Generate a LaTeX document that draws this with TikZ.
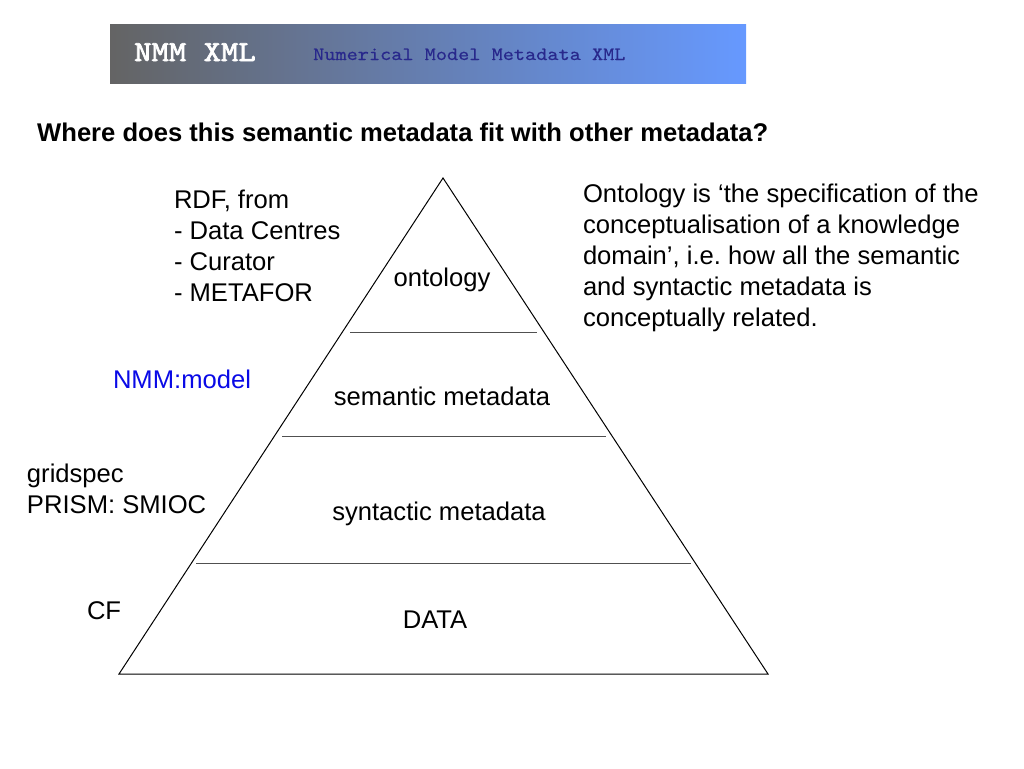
\documentclass[tikz,border=0pt]{standalone}
\usepackage{fontspec}
\setmainfont{Liberation Sans}
\newfontfamily\bannerbold{lmmono10-regular.otf}[FakeStretch=1.14,FakeBold=2.5]
\newfontfamily\bannerfont{lmmono10-regular.otf}[FakeStretch=1.13,FakeBold=0.4]
\definecolor{bandgray}{RGB}{100,100,100}
\definecolor{bandblue}{RGB}{102,153,255}
\definecolor{bandtext}{RGB}{40,40,140}
\definecolor{linegray}{RGB}{80,80,80}
\definecolor{modelblue}{RGB}{10,10,230}
\frenchspacing
\begin{document}
\begin{tikzpicture}[x=1pt,y=-1pt,
  body/.style={inner sep=0pt,outer sep=0pt,font=\fontsize{25.6}{31}\selectfont,align=left},
  label/.style={body,anchor=base west},
  layer/.style={body,anchor=base,align=center},
  sep/.style={draw=linegray,line width=1pt}]
\useasboundingbox (0,0) rectangle (1024,768);
% banner
\shade[left color=bandgray,right color=bandblue,shading angle=90] (110,25) rectangle (746,83);
\node[anchor=base west,inner sep=0pt,text=white,font=\bannerbold\fontsize{29}{30}\selectfont] (nmm) at (134,61) {NMM XML};
\node[anchor=base west,inner sep=0pt,text=bandtext,font=\bannerfont\fontsize{18.8}{20}\selectfont] (nmmsub) at (313,60) {Numerical Model Metadata XML};
% title
\node[anchor=base west,inner sep=0pt,font=\bfseries\fontsize{25.6}{30}\selectfont] (title) at (37,141) {Where does this semantic metadata fit with other metadata?};
% pyramid
\coordinate (apex) at (443,178);
\coordinate (bl) at (119,674);
\coordinate (br) at (768,674);
\draw[line width=1pt] (apex) -- (bl) -- (br) -- cycle;
\coordinate (s1l) at (350,332); \coordinate (s1r) at (537,332);
\coordinate (s2l) at (282,436); \coordinate (s2r) at (606,436);
\coordinate (s3l) at (196,563); \coordinate (s3r) at (691,563);
\draw[sep] (s1l) -- (s1r);
\draw[sep] (s2l) -- (s2r);
\draw[sep] (s3l) -- (s3r);
\node[layer] (onto) at (442,286) {ontology};
\node[layer] (sem) at (442,405) {semantic metadata};
\node[layer] (syn) at (439,520) {syntactic metadata};
\node[layer] (data) at (435,628) {DATA};
% left labels (base = last line)
\node[label] (rdf) at (174,301) {RDF, from\\- Data Centres\\- Curator\\- METAFOR};
\node[label,text=modelblue] (model) at (113,388) {NMM:model};
\node[label] (grid) at (27,513) {gridspec\\PRISM: SMIOC};
\node[label] (cf) at (87,619) {CF};
% right text
\node[label] (def) at (583,326) {Ontology is ‘the specification of the\\conceptualisation of a knowledge\\domain’, i.e. how all the semantic\\and syntactic metadata is\\conceptually related.};
\end{tikzpicture}
\end{document}
